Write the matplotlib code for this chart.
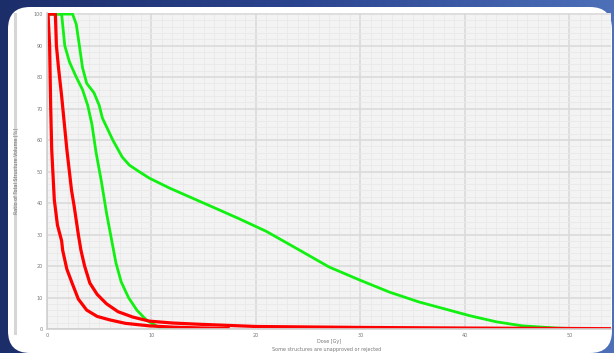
import numpy as np
import matplotlib
matplotlib.use("Agg")
import matplotlib.pyplot as plt
from matplotlib.patches import FancyBboxPatch
from matplotlib.ticker import MultipleLocator

# DVH curves: dose [Gy] vs ratio of total structure volume [%]
red1_dose = [0, 0.1, 0.25, 0.35, 0.45, 0.7, 1.0, 1.4, 1.5, 1.9, 2.4, 3.0, 3.8, 4.8, 6.0, 7.5, 9.8, 12.0, 14.0, 17.5]
red1_vol = [100, 100, 90, 71, 57, 41, 33, 28, 25, 19, 14.6, 9.5, 6.0, 4.0, 2.9, 1.8, 1.0, 0.6, 0.4, 0.1]

red2_dose = [0, 0.8, 0.9, 1.1, 1.4, 1.9, 2.35, 2.6, 3.0, 3.25, 3.6, 4.1, 4.8, 5.7, 6.8, 8.2, 9.8, 12.0, 14.6, 20, 30, 40, 54]
red2_vol = [100, 100, 90, 83, 74, 57, 44, 39, 30, 25, 20, 14.6, 11, 8.0, 5.5, 3.8, 2.5, 1.9, 1.5, 0.8, 0.5, 0.3, 0.1]

green1_dose = [0, 1.4, 1.7, 2.15, 2.8, 3.4, 3.9, 4.3, 4.7, 5.2, 5.7, 6.2, 6.6, 7.1, 7.8, 8.6, 9.5, 10.8, 12.7]
green1_vol = [100, 100, 90, 84.8, 80, 76, 71, 65, 56, 47, 36.8, 28, 21, 15, 10, 6.0, 2.9, 0.3, 0]

green2_dose = [0, 2.45, 2.8, 3.1, 3.4, 3.8, 4.5, 5.0, 5.3, 6.3, 7.2, 7.9, 8.9, 9.8, 11.7, 14.3, 16.5, 18.4,
               21.0, 24.2, 27.0, 29.9, 32.8, 35.6, 38.5, 40.5, 43.0, 45.5, 48.8, 52.0]
green2_vol = [100, 100, 96.8, 90, 83, 78, 75, 71, 67, 60, 54.6, 52, 49.8, 47.9, 44.8, 41, 37.8, 35,
              31, 25, 19.7, 15.6, 11.7, 8.6, 6.0, 4.2, 2.3, 1.0, 0.3, 0]

x_ticks = [0, 10, 20, 30, 40, 50]
y_ticks = [0, 10, 20, 30, 40, 50, 60, 70, 80, 90, 100]

fig = plt.figure(figsize=(6.14, 3.53), dpi=100)

# blue gradient backdrop
bg = fig.add_axes([0, 0, 1, 1])
grad = np.linspace(0, 1, 256)[None, :]
cmap = matplotlib.colors.LinearSegmentedColormap.from_list("bg", ["#1c2e6a", "#2c4590", "#4d70b8"])
bg.imshow(grad, aspect="auto", cmap=cmap, extent=[0, 614, 0, 353])
bg.set_xlim(0, 614)
bg.set_ylim(353, 0)
bg.axis("off")

# white rounded panel
panel = FancyBboxPatch((8, 7), 604, 346, boxstyle="round,pad=0,rounding_size=22",
                       facecolor="white", edgecolor="none")
bg.add_patch(panel)
bg.plot([14.5, 14.5], [14, 333], color="#d6d6d6", lw=2.2)

ax = fig.add_axes([47 / 614, 1 - 329 / 353, (611 - 47) / 614, (329 - 12.5) / 353])
ax.set_facecolor("#f3f3f3")
ax.set_xlim(0, 54)
ax.set_ylim(0, 100.5)
ax.xaxis.set_minor_locator(MultipleLocator(1))
ax.yaxis.set_minor_locator(MultipleLocator(2))
ax.grid(which="minor", color="#e9e9e9", lw=0.6)
ax.grid(which="major", color="#dadada", lw=1.2)
ax.set_axisbelow(True)
ax.set_xticks(x_ticks)
ax.set_yticks(y_ticks)
ax.set_xticklabels([str(t) for t in x_ticks])
ax.set_yticklabels([str(t) for t in y_ticks])
ax.tick_params(which="both", length=0, labelsize=3.5, labelcolor="#777777", pad=3)
for side in ["top", "right"]:
    ax.spines[side].set_visible(False)
for side in ["left", "bottom"]:
    ax.spines[side].set_color("#cfcfcf")
    ax.spines[side].set_linewidth(1.2)

ax.plot(green2_dose, green2_vol, color="#11f011", lw=2.0, solid_capstyle="butt")
ax.plot(green1_dose, green1_vol, color="#11f011", lw=2.0, solid_capstyle="butt")
ax.plot(red2_dose, red2_vol, color="#ff0000", lw=2.3, solid_capstyle="butt")
ax.plot(red1_dose, red1_vol, color="#ff0000", lw=2.3, solid_capstyle="butt")

ax.set_xlabel("Dose [Gy]", fontsize=3.5, color="#777777", labelpad=0.5)
ax.set_ylabel("Ratio of Total Structure Volume [%]", fontsize=3.5, color="#777777", labelpad=11)
fig.text(327 / 614, 1 - 350 / 353, "Some structures are unapproved or rejected",
         fontsize=3.5, color="#777777", ha="center", va="center")

fig.savefig("out.png", dpi=100)
